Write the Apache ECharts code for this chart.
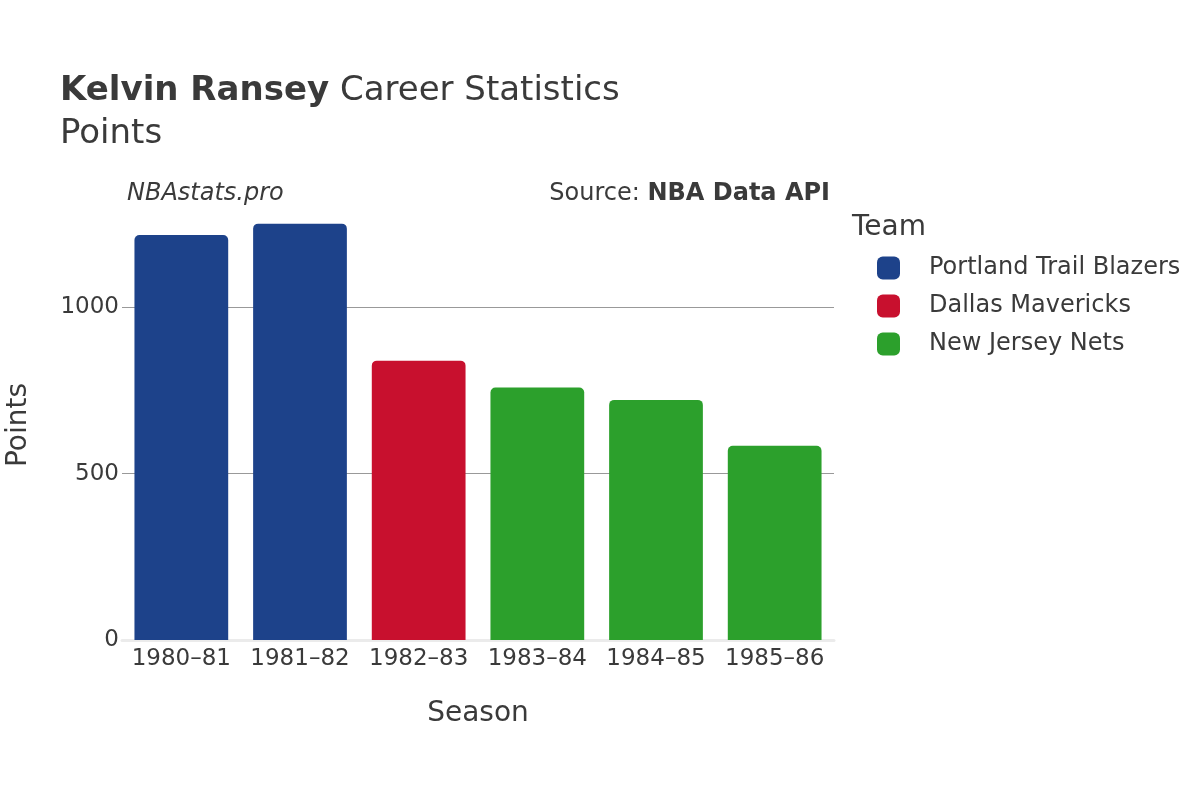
<!DOCTYPE html>
<html>
<head>
<meta charset="utf-8">
<script src="https://cdn.jsdelivr.net/npm/echarts@6/dist/echarts.min.js"></script>
<style>html,body{margin:0;padding:0;background:#fff;}#c{width:1200px;height:800px;}</style>
</head>
<body>
<div id="c"></div>
<script>
const seasons = ['1980–81', '1981–82', '1982–83', '1983–84', '1984–85', '1985–86'];
const points = [1218, 1252, 840, 759, 722, 584];
const seasonTeams = ['Portland Trail Blazers', 'Portland Trail Blazers', 'Dallas Mavericks', 'New Jersey Nets', 'New Jersey Nets', 'New Jersey Nets'];
const teams = ['Portland Trail Blazers', 'Dallas Mavericks', 'New Jersey Nets'];
const teamColors = ['#1d428a', '#c8102e', '#2ca02c'];
const yTicks = [0, 500, 1000];

const FONT = 'DejaVu Sans';
const TXT = '#3a3a3a';

const series = teams.map((t, i) => ({
  name: t,
  type: 'bar',
  stack: 'all',
  barWidth: '79%',
  itemStyle: { color: teamColors[i], borderRadius: [5, 5, 0, 0] },
  data: seasons.map((s, j) => seasonTeams[j] === t ? points[j] : '-')
}));

const chart = echarts.init(document.getElementById('c'), null, { renderer: 'canvas' });
chart.setOption({
  backgroundColor: '#ffffff',
  animation: false,
  textStyle: { fontFamily: FONT },
  graphic: [
    { type: 'text', x: 60, y: 91, style: {
      text: '{b|Kelvin Ransey}{n| Career Statistics}', verticalAlign: 'middle',
      rich: {
        b: { fontFamily: FONT, fontSize: 34, fontWeight: 'bold', fill: TXT },
        n: { fontFamily: FONT, fontSize: 34, fontWeight: 'normal', fill: TXT }
      } } },
    { type: 'text', x: 60, y: 134, style: { text: 'Points', verticalAlign: 'middle', font: '34px "DejaVu Sans"', fill: TXT } },
    { type: 'text', x: 127, y: 194, style: { text: 'NBAstats.pro', verticalAlign: 'middle', font: 'italic 24px "DejaVu Sans"', fill: TXT } },
    { type: 'text', x: 830, y: 194, style: {
      text: '{n|Source: }{b|NBA Data API}', align: 'right', verticalAlign: 'middle',
      rich: {
        n: { fontFamily: FONT, fontSize: 24, fontWeight: 'normal', fill: TXT },
        b: { fontFamily: FONT, fontSize: 24, fontWeight: 'bold', fill: TXT }
      } } },
    { type: 'text', x: 852, y: 228, style: { text: 'Team', verticalAlign: 'middle', font: '28px "DejaVu Sans"', fill: TXT } }
  ],
  legend: {
    orient: 'vertical',
    left: 877, top: 256,
    padding: 0,
    itemWidth: 23, itemHeight: 23,
    itemGap: 14,
    icon: 'roundRect',
    textStyle: { fontFamily: FONT, fontSize: 24, color: TXT, padding: [0, 0, 0, 24] },
    data: teams
  },
  grid: { left: 122, right: 366, top: 210, bottom: 160, outerBoundsMode: 'none', containLabel: false },
  xAxis: {
    type: 'category',
    data: seasons,
    name: 'Season',
    nameLocation: 'middle',
    nameGap: 60,
    nameTextStyle: { fontFamily: FONT, fontSize: 28, color: TXT },
    axisLine: { show: true, lineStyle: { color: '#ebebeb', width: 3 } },
    axisTick: { show: false },
    axisLabel: { fontFamily: FONT, fontSize: 23, color: TXT, margin: 8, interval: 0, hideOverlap: false }
  },
  yAxis: {
    type: 'value',
    min: 0, max: 1293, interval: 500,
    name: 'Points',
    nameLocation: 'middle',
    nameGap: 89,
    nameTextStyle: { fontFamily: FONT, fontSize: 28, color: TXT },
    axisLine: { show: false },
    axisTick: { show: false },
    axisLabel: {
      fontFamily: FONT, fontSize: 23, color: TXT, margin: 3,
      showMaxLabel: false,
      formatter: v => yTicks.includes(v) ? String(v) : ''
    },
    splitLine: { show: true, lineStyle: { color: ['#ebebeb', '#999999', '#999999', 'rgba(0,0,0,0)'], width: 1 } }
  },
  series: series
});
</script>
</body>
</html>
